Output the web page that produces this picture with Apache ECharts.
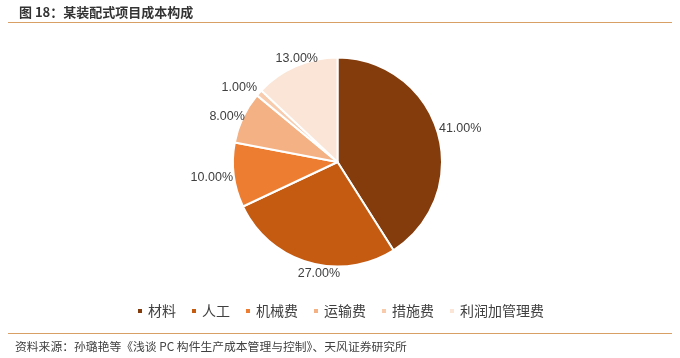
<!DOCTYPE html>
<html><head><meta charset="utf-8">
<script src="https://cdn.jsdelivr.net/npm/echarts@6/dist/echarts.min.js"></script>
<style>html,body{margin:0;padding:0;background:#fff;}#c{width:680px;height:358px;}</style>
</head><body><div id="c"></div>
<script>
const categories = ['材料','人工','机械费','运输费','措施费','利润加管理费'];
const values = [41, 27, 10, 8, 1, 13];
const colors = ['#843C0C','#C55A11','#ED7D31','#F4B183','#F8CBAD','#FBE5D6'];
const titleText = '图 18：某装配式项目成本构成';
const sourceText = '资料来源：孙璐艳等《浅谈 PC 构件生产成本管理与控制》、天风证券研究所';
// small style nudges for label placement (pixels), per slice
const labelShift = [[0, -2], [17, 3], [1, 1], [2, 3], [-5, 0], [10, 0]];

const chart = echarts.init(document.getElementById('c'));
const CX = 337.5, CY = 162, R = 104.5;
const total = values.reduce((a, b) => a + b, 0);

function labelLayout(params) {
  const i = params.dataIndex;
  let mid;
  try {
    const lay = chart.getModel().getSeriesByIndex(0).getData().getItemLayout(i);
    mid = (lay.startAngle + lay.endAngle) / 2;
  } catch (e) {
    let cum = 0; for (let k = 0; k < i; k++) cum += values[k];
    mid = -Math.PI / 2 + (cum + values[i] / 2) / total * Math.PI * 2;
  }
  const dx = Math.cos(mid), dy = Math.sin(mid);
  const w = params.labelRect.width, h = params.labelRect.height;
  const gap = 2;
  const x = CX + dx * (R + gap) + dx * w / 2 + labelShift[i][0];
  const y = CY + dy * (R + gap) + dy * h / 2 + labelShift[i][1];
  return { x: x, y: y, align: 'center', verticalAlign: 'middle' };
}

chart.setOption({
  animation: false,
  color: colors,
  title: { text: titleText, left: 14, top: 1, textStyle: { fontSize: 13, fontWeight: 'bold', color: '#333', fontFamily: 'Noto Sans CJK SC' } },
  graphic: [
    { type: 'line', shape: { x1: 8, y1: 22.5, x2: 672, y2: 22.5 }, style: { stroke: '#D9A066', lineWidth: 1.2 } },
    { type: 'line', shape: { x1: 8, y1: 333.5, x2: 672, y2: 333.5 }, style: { stroke: '#D9A066', lineWidth: 1.2 } },
    { type: 'text', left: 15, top: 341, style: { text: sourceText, fontSize: 11.8, fill: '#404040', fontFamily: 'Noto Sans CJK SC' } }
  ],
  legend: {
    data: categories, bottom: 35, left: 'center', icon: 'rect', itemWidth: 6, itemHeight: 6, itemGap: 14,
    textStyle: { fontSize: 14, color: '#404040', fontFamily: 'Noto Sans CJK SC' }
  },
  series: [{
    type: 'pie', center: [CX, CY], radius: [0, R], startAngle: 90, clockwise: true,
    itemStyle: { borderColor: '#fff', borderWidth: 2 },
    label: { show: true, position: 'outside', formatter: p => p.value.toFixed(2) + '%', fontSize: 12.5, color: '#404040', fontFamily: 'Liberation Sans' },
    labelLine: { show: false, length: 4, length2: 0 },
    labelLayout: labelLayout,
    data: categories.map((c, i) => ({ name: c, value: values[i] }))
  }]
});
</script></body></html>
